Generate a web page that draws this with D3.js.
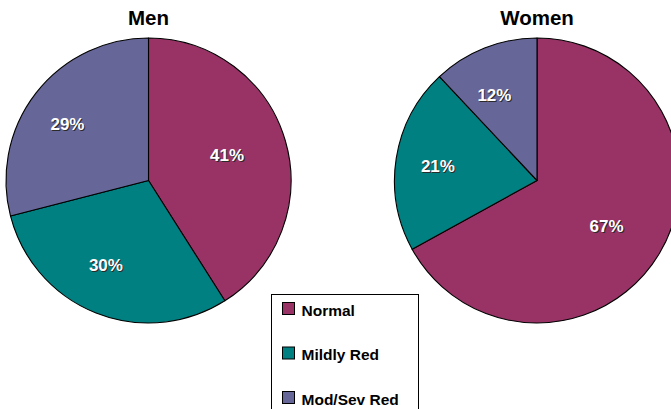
<!DOCTYPE html>
<html>
<head>
<meta charset="utf-8">
<script src="https://cdn.jsdelivr.net/npm/d3@7"></script>
<style>
  html, body { margin: 0; padding: 0; background: #ffffff; overflow: hidden; }
  svg { display: block; font-family: "Liberation Sans", Arial, sans-serif; }
</style>
</head>
<body>
<svg id="chart" width="671" height="409"></svg>
<script>
// Severity categories and their colours
const categories = ["Normal", "Mildly Red", "Mod/Sev Red"];
const colors = ["#993366", "#008080", "#666699"];

// Share of each category (percent), by group
const groups = ["Men", "Women"];
const menValues = [41, 30, 29];
const womenValues = [67, 21, 12];

const svg = d3.select("#chart");

const radius = 142.5;
const centerY = 180.5;
const centers = [148.5, 537];
const labelRadius = radius * 0.64;
const labelShiftX = -9;

const color = d3.scaleOrdinal().domain(categories).range(colors);

const pie = d3.pie().sort(null).value(d => d.value);
const arc = d3.arc().innerRadius(0).outerRadius(radius);
const labelArc = d3.arc().innerRadius(labelRadius).outerRadius(labelRadius);

[menValues, womenValues].forEach((vals, gi) => {
  const data = categories.map((c, i) => ({ category: c, value: vals[i] }));
  const g = svg.append("g").attr("transform", `translate(${centers[gi]},${centerY})`);

  g.selectAll("path.slice")
    .data(pie(data))
    .join("path")
    .attr("class", "slice")
    .attr("d", arc)
    .attr("fill", d => color(d.data.category))
    .attr("stroke", "#000")
    .attr("stroke-width", 1.1)
    .attr("stroke-linejoin", "round");

  const labels = g.selectAll("g.lbl")
    .data(pie(data))
    .join("g")
    .attr("class", "lbl")
    .attr("transform", d => {
      const [x, y] = labelArc.centroid(d);
      return `translate(${x + labelShiftX},${y})`;
    });

  // drop shadow under the value labels
  labels.append("text")
    .attr("x", 1).attr("y", 1)
    .attr("text-anchor", "middle")
    .attr("dominant-baseline", "central")
    .attr("font-size", 17).attr("font-weight", "bold")
    .attr("fill", "#2a2a2a")
    .text(d => d.data.value + "%");

  labels.append("text")
    .attr("text-anchor", "middle")
    .attr("dominant-baseline", "central")
    .attr("font-size", 17).attr("font-weight", "bold")
    .attr("fill", "#ffffff")
    .text(d => d.data.value + "%");

  // group title
  svg.append("text")
    .attr("x", centers[gi]).attr("y", 25)
    .attr("text-anchor", "middle")
    .attr("font-size", 20.5).attr("font-weight", "bold")
    .attr("fill", "#000")
    .text(groups[gi]);
});

// Legend
const legend = svg.append("g").attr("transform", "translate(271.5,294.5)");
legend.append("rect")
  .attr("width", 147).attr("height", 130)
  .attr("fill", "#fff").attr("stroke", "#000").attr("stroke-width", 1);

const item = legend.selectAll("g.item")
  .data(categories)
  .join("g")
  .attr("class", "item")
  .attr("transform", (d, i) => `translate(11,${8 + i * 44.5})`);

item.append("rect")
  .attr("width", 12).attr("height", 12)
  .attr("fill", d => color(d))
  .attr("stroke", "#000").attr("stroke-width", 1);

item.append("text")
  .attr("x", 19).attr("y", 13)
  .attr("font-size", 15.5).attr("font-weight", "bold")
  .attr("fill", "#000")
  .text(d => d);
</script>
</body>
</html>
